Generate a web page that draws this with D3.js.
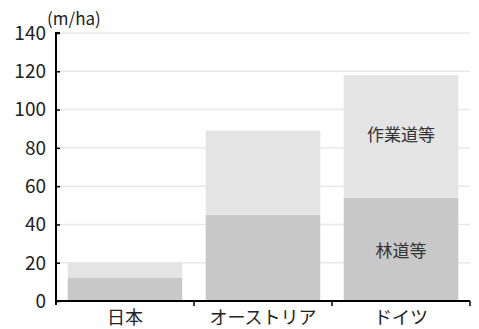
<!DOCTYPE html>
<html>
<head>
<meta charset="utf-8">
<script src="https://cdn.jsdelivr.net/npm/d3@7"></script>
<style>
  html, body { margin: 0; padding: 0; background: #fff; }
  svg { display: block; font-family: "Noto Sans CJK JP", "Noto Sans", sans-serif; }
</style>
</head>
<body>
<svg id="chart" width="479" height="329"></svg>
<script>
// Road density per forest area (m/ha)
const categories = ["日本", "オーストリア", "ドイツ"];
const forestRoads = [12, 45, 54];      // 林道等
const stripRoads = [8, 44, 64];        // 作業道等
const yTicks = [0, 20, 40, 60, 80, 100, 120, 140];
const seriesNames = ["林道等", "作業道等"];
const seriesColors = ["#c8c8c8", "#e4e4e4"];

const svg = d3.select("#chart");
const margin = { left: 56, right: 9, top: 33, bottom: 28 };
const W = 479, H = 329;

const x = d3.scaleBand()
  .domain(categories)
  .range([margin.left, W - margin.right])
  .paddingInner(0.17)
  .paddingOuter(0.085);

const y = d3.scaleLinear()
  .domain([0, 140])
  .range([H - margin.bottom, margin.top]);

const rows = categories.map((c, i) => ({ cat: c, "林道等": forestRoads[i], "作業道等": stripRoads[i] }));
const stacked = d3.stack().keys(seriesNames)(rows);

// gridlines
svg.append("g")
  .selectAll("line")
  .data(yTicks.filter(t => t > 0))
  .join("line")
  .attr("x1", margin.left)
  .attr("x2", W - margin.right)
  .attr("y1", d => y(d))
  .attr("y2", d => y(d))
  .attr("stroke", "#e8e8e8")
  .attr("stroke-width", 1.5);

// stacked bars
svg.append("g")
  .selectAll("g")
  .data(stacked)
  .join("g")
  .attr("fill", (d, i) => seriesColors[i])
  .selectAll("rect")
  .data(d => d)
  .join("rect")
  .attr("x", d => x(d.data.cat))
  .attr("width", x.bandwidth())
  .attr("y", d => y(d[1]))
  .attr("height", d => y(d[0]) - y(d[1]));

// series labels on the last bar
const last = rows.length - 1;
stacked.forEach((s, i) => {
  const seg = s[last];
  svg.append("text")
    .attr("x", x(categories[last]) + x.bandwidth() / 2)
    .attr("y", (y(seg[0]) + y(seg[1])) / 2 - (i === 1 ? 3 : 0))
    .attr("text-anchor", "middle")
    .attr("dominant-baseline", "central")
    .attr("font-size", 17)
    .attr("fill", "#333")
    .text(seriesNames[i]);
});

// y axis
const yAxis = svg.append("g")
  .attr("transform", `translate(${margin.left},0)`)
  .call(d3.axisRight(y).tickValues(yTicks).tickSize(4).tickFormat(""));
yAxis.select(".domain").attr("d", `M4,${y(140)}H0V${y(0) + 4}`).attr("stroke", "#000").attr("stroke-width", 2);
yAxis.selectAll(".tick line").attr("stroke", "#000").attr("stroke-width", 1.5);

svg.append("g")
  .selectAll("text")
  .data(yTicks)
  .join("text")
  .attr("x", margin.left - 10)
  .attr("y", d => y(d))
  .attr("dy", "0.36em")
  .attr("text-anchor", "end")
  .attr("font-size", 19)
  .attr("fill", "#222")
  .text(d => d);

// x axis
const xAxis = svg.append("g")
  .attr("transform", `translate(0,${y(0)})`)
  .call(d3.axisBottom(x).tickSize(0).tickFormat(""));
xAxis.select(".domain").attr("stroke", "#000").attr("stroke-width", 2)
  .attr("d", `M${margin.left},0H${W - margin.right}`);

// category boundary ticks
const step = x.step();
const bounds = categories.map(c => x(c) + x.bandwidth() + x.paddingInner() * step / 2);
bounds[bounds.length - 1] = W - margin.right;
xAxis.selectAll(".bound")
  .data(bounds)
  .join("line")
  .attr("class", "bound")
  .attr("x1", d => d).attr("x2", d => d)
  .attr("y1", 0).attr("y2", 5)
  .attr("stroke", "#000").attr("stroke-width", 1.5);

svg.append("g")
  .selectAll("text")
  .data(categories)
  .join("text")
  .attr("x", d => x(d) + x.bandwidth() / 2)
  .attr("y", H - 5)
  .attr("text-anchor", "middle")
  .attr("font-size", 18)
  .attr("fill", "#222")
  .text(d => d);

// unit label
svg.append("text")
  .attr("x", 47)
  .attr("y", 25)
  .attr("font-size", 17)
  .attr("fill", "#222")
  .text("(m/ha)");
</script>
</body>
</html>
